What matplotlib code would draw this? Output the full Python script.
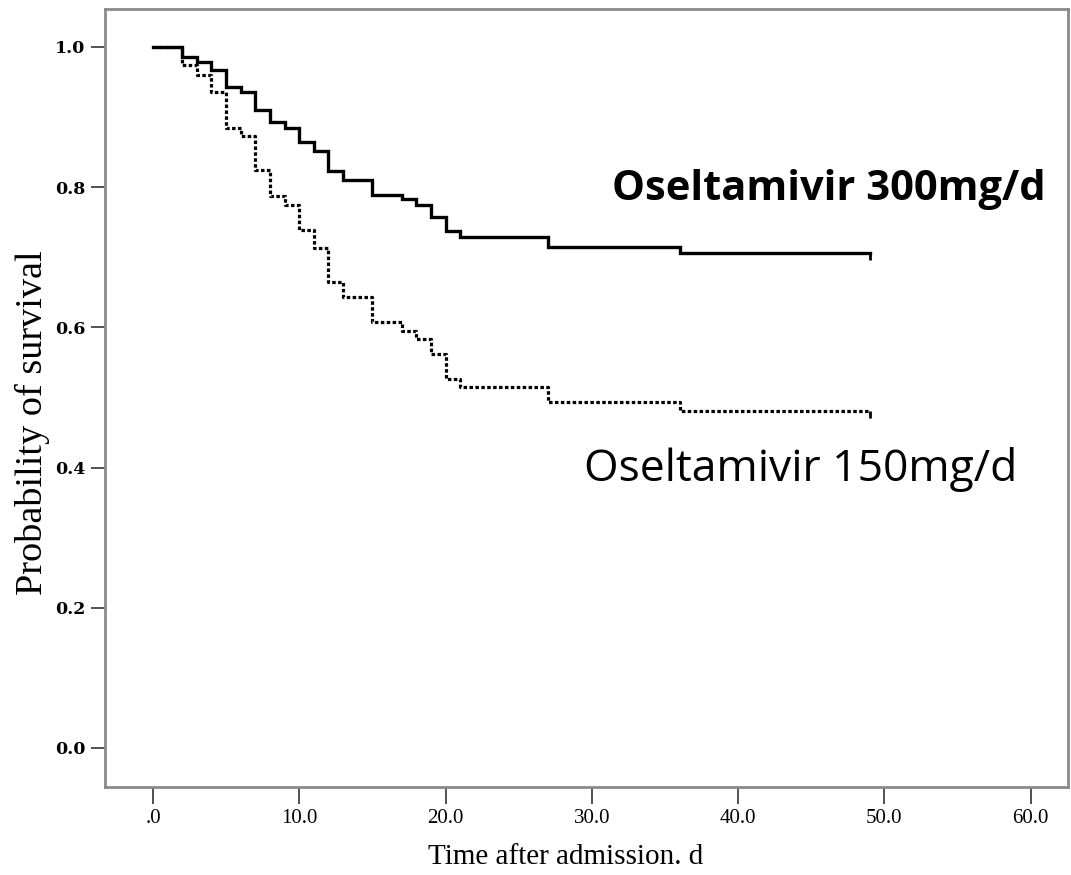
import matplotlib
matplotlib.use("Agg")
import matplotlib.pyplot as plt

# Kaplan-Meier step data (time in days, survival probability)
t_300 = [0, 2, 3, 4, 5, 6, 7, 8, 9, 10, 11, 12, 13, 15, 17, 18, 19, 20, 21, 27, 36, 49]
s_300 = [1.0, 0.986, 0.979, 0.967, 0.943, 0.936, 0.910, 0.893, 0.884, 0.865, 0.851,
         0.823, 0.810, 0.789, 0.783, 0.775, 0.758, 0.737, 0.729, 0.715, 0.706, 0.706]

t_150 = [0, 2, 3, 4, 5, 6, 7, 8, 9, 10, 11, 12, 13, 15, 17, 18, 19, 20, 21, 27, 36, 49]
s_150 = [1.0, 0.974, 0.960, 0.936, 0.884, 0.873, 0.825, 0.787, 0.775, 0.739, 0.713,
         0.665, 0.644, 0.608, 0.595, 0.584, 0.562, 0.527, 0.515, 0.493, 0.481, 0.481]

x_ticks = [0, 10, 20, 30, 40, 50, 60]
x_ticklabels = [".0", "10.0", "20.0", "30.0", "40.0", "50.0", "60.0"]
y_ticks = [0.0, 0.2, 0.4, 0.6, 0.8, 1.0]
y_ticklabels = ["0.0", "0.2", "0.4", "0.6", "0.8", "1.0"]

label_300 = "Oseltamivir 300mg/d"
label_150 = "Oseltamivir 150mg/d"

fig = plt.figure(figsize=(10.71, 8.75), dpi=100)
ax = fig.add_axes([0.098, 0.1006, 0.899, 0.889])

ax.step(t_300, s_300, where="post", color="black", lw=2.4, solid_joinstyle="miter")
ax.plot(t_300[-1], s_300[-1], marker=3, color="black", markersize=5, mew=2)

ax.step(t_150, s_150, where="post", color="black", lw=2.3,
        linestyle=(0, (1.1, 0.75)), dash_capstyle="butt")
ax.plot(t_150[-1], s_150[-1], marker=3, color="black", markersize=5, mew=2)

ax.set_xlim(-3.28, 62.54)
ax.set_ylim(-0.0556, 1.054)

ax.set_xticks(x_ticks)
ax.set_xticklabels(x_ticklabels, fontfamily="Liberation Serif", fontsize=15)
ax.set_yticks(y_ticks)
ax.set_yticklabels(y_ticklabels, fontfamily="DejaVu Serif", fontweight="bold", fontsize=12.5)
ax.tick_params(axis="x", length=12, width=1.2, color="#333333", pad=4)
ax.tick_params(axis="y", length=10, width=1.2, color="#333333", pad=4)

for sp in ax.spines.values():
    sp.set_color("#8a8a8a")
    sp.set_linewidth(2)

ax.set_xlabel("Time after admission. d", fontfamily="Liberation Serif", fontsize=21,
              va="center")
ax.xaxis.set_label_coords(0.478, -0.09)
ax.set_ylabel("Probability of survival", fontfamily="Liberation Serif", fontsize=27.5,
              va="center")
ax.yaxis.set_label_coords(-0.075, 0.468)

ax.text(31.4, 0.796, label_300, fontfamily="Open Sans", fontweight="bold", fontsize=30,
        va="center", ha="left")
ax.text(29.5, 0.397, label_150, fontfamily="Open Sans", fontsize=32,
        va="center", ha="left")

fig.savefig("out.png", dpi=100)
